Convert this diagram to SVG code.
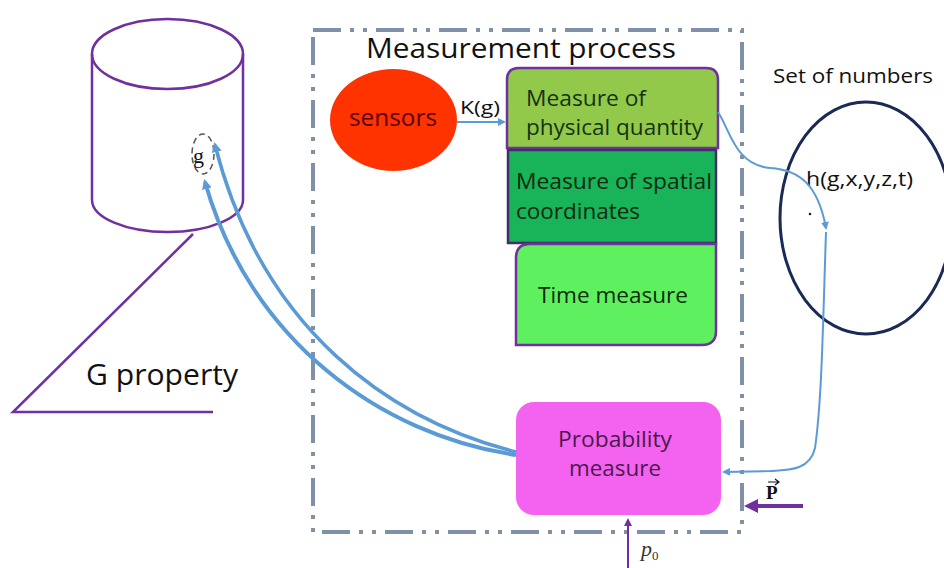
<svg xmlns="http://www.w3.org/2000/svg" width="944" height="568" viewBox="0 0 944 568">
<style>
.purple{fill:none;stroke:#7030a0;stroke-width:2.5}
.sans{font-family:"Open Sans","Liberation Sans",sans-serif}
.conn{fill:none;stroke:#5b9bd5}
</style>
<defs>
<marker id="ab" markerWidth="8" markerHeight="8" refX="6" refY="4" orient="auto" markerUnits="userSpaceOnUse"><path d="M0,0 L8,4 L0,8 z" fill="#5b9bd5"/></marker>
<marker id="ab2" markerWidth="10" markerHeight="10" refX="7" refY="5" orient="auto" markerUnits="userSpaceOnUse"><path d="M0,0 L10,5 L0,10 z" fill="#5b9bd5"/></marker>
<marker id="ap" markerWidth="14" markerHeight="14" refX="10" refY="7" orient="auto" markerUnits="userSpaceOnUse"><path d="M0,0 L14,7 L0,14 z" fill="#7030a0"/></marker>
<marker id="ap2" markerWidth="8" markerHeight="8" refX="6" refY="4" orient="auto" markerUnits="userSpaceOnUse"><path d="M0,0 L8,4 L0,8 z" fill="#7030a0"/></marker>
</defs>
<rect width="944" height="568" fill="#ffffff"/>

<g id="process-border">
<rect x="313" y="30" width="429" height="502" fill="none" stroke="#8090a8" stroke-width="4" stroke-dasharray="28 9 4 9 4 9"/>
<text x="366" y="58" class="sans" font-size="28" fill="#111" textLength="310" lengthAdjust="spacingAndGlyphs">Measurement process</text>
</g>

<g id="cylinder">
<path class="purple" d="M92,54 L92,200 A75.5,32 0 0 0 243,200 L243,54"/>
<ellipse class="purple" cx="167.5" cy="54" rx="75.5" ry="35"/>
<ellipse cx="203" cy="154" rx="11" ry="20" fill="none" stroke="#555" stroke-width="1.5" stroke-dasharray="6 4"/>
<text x="193" y="163" font-family="Liberation Serif,serif" font-size="22" fill="#111">g</text>
</g>

<g id="g-property">
<path class="purple" d="M193,234 L13,412 L213,412"/>
<text x="86" y="385" class="sans" font-size="29" fill="#111" textLength="152" lengthAdjust="spacingAndGlyphs">G property</text>
</g>

<g id="sensors">
<ellipse cx="393.5" cy="120" rx="63.5" ry="51" fill="#ff3300"/>
<text x="349" y="126" class="sans" font-size="23" fill="#5a0000" textLength="88" lengthAdjust="spacingAndGlyphs">sensors</text>
</g>

<g id="physical">
<path d="M507,148 L507,80 Q507,68 519,68 L706,68 Q718,68 718,80 L718,148 Z" fill="#92c94a" stroke="#7030a0" stroke-width="2.5"/>
<text x="526" y="106" class="sans" font-size="21" fill="#143314" textLength="120" lengthAdjust="spacingAndGlyphs">Measure of</text>
<text x="526" y="135" class="sans" font-size="21" fill="#143314" textLength="177" lengthAdjust="spacingAndGlyphs">physical quantity</text>
</g>

<g id="spatial">
<rect x="508" y="150" width="208" height="93" fill="#19b35a" stroke="#40306a" stroke-width="2.5"/>
<text x="516" y="189" class="sans" font-size="21" fill="#102a10" textLength="196" lengthAdjust="spacingAndGlyphs">Measure of spatial</text>
<text x="516" y="219" class="sans" font-size="21" fill="#102a10" textLength="124" lengthAdjust="spacingAndGlyphs">coordinates</text>
</g>

<g id="time">
<path d="M516,345 L516,258 Q516,244 530,244 L716,244 L716,331 Q716,345 702,345 Z" fill="#5ff05f" stroke="#7030a0" stroke-width="2.5"/>
<text x="538" y="303" class="sans" font-size="21" fill="#102a10" textLength="150" lengthAdjust="spacingAndGlyphs">Time measure</text>
</g>

<g id="set-of-numbers">
<text x="773" y="83" class="sans" font-size="20" fill="#111" textLength="160" lengthAdjust="spacingAndGlyphs">Set of numbers</text>
<ellipse cx="866" cy="218" rx="86" ry="116" fill="none" stroke="#1a2a55" stroke-width="3"/>
<text x="806" y="186" class="sans" font-size="20" fill="#111" textLength="107" lengthAdjust="spacingAndGlyphs">h(g,x,y,z,t)</text>
<circle cx="810" cy="214" r="1.3" fill="#222"/>
</g>

<g id="probability">
<rect x="516" y="402" width="205" height="113" rx="18" fill="#f462f0"/>
<text x="615" y="447" class="sans" font-size="21" fill="#4a1a4a" text-anchor="middle" textLength="114" lengthAdjust="spacingAndGlyphs">Probability</text>
<text x="615" y="476" class="sans" font-size="21" fill="#4a1a4a" text-anchor="middle" textLength="92" lengthAdjust="spacingAndGlyphs">measure</text>
</g>

<g id="connectors">
<line class="conn" x1="457" y1="122" x2="504" y2="122" stroke-width="2" marker-end="url(#ab)"/>
<text x="460" y="114" class="sans" font-size="19" fill="#111" textLength="40" lengthAdjust="spacingAndGlyphs">K(g)</text>
<path class="conn" stroke-width="2" d="M718,112 C730,130 735,165 770,168 C800,170 818,185 826,228" marker-end="url(#ab)"/>
<path class="conn" stroke-width="2" d="M826,232 C823,320 822,400 815,448 C810,470 790,470 770,471 L724,472" marker-end="url(#ab)"/>
<path class="conn" stroke-width="4" d="M516,455 C380,435 250,340 205,182" marker-end="url(#ab2)"/>
<path class="conn" stroke-width="3.5" d="M516,452 C390,420 262,330 215,145" marker-end="url(#ab2)"/>
<line x1="803" y1="506" x2="748" y2="506" stroke="#7030a0" stroke-width="4" marker-end="url(#ap)"/>
<text x="766" y="499" font-family="Liberation Serif,serif" font-size="19" font-weight="bold" fill="#111">P</text>
<path d="M768,482 L778,482 M775,479 L779,482 L775,485" fill="none" stroke="#111" stroke-width="1.2"/>
<line x1="628" y1="568" x2="628" y2="520" stroke="#7030a0" stroke-width="2" marker-end="url(#ap2)"/>
<text x="641" y="556" font-family="Liberation Serif,serif" font-size="22" font-style="italic" fill="#333">p<tspan font-size="13" font-style="normal" dy="4">0</tspan></text>
</g>
</svg>
